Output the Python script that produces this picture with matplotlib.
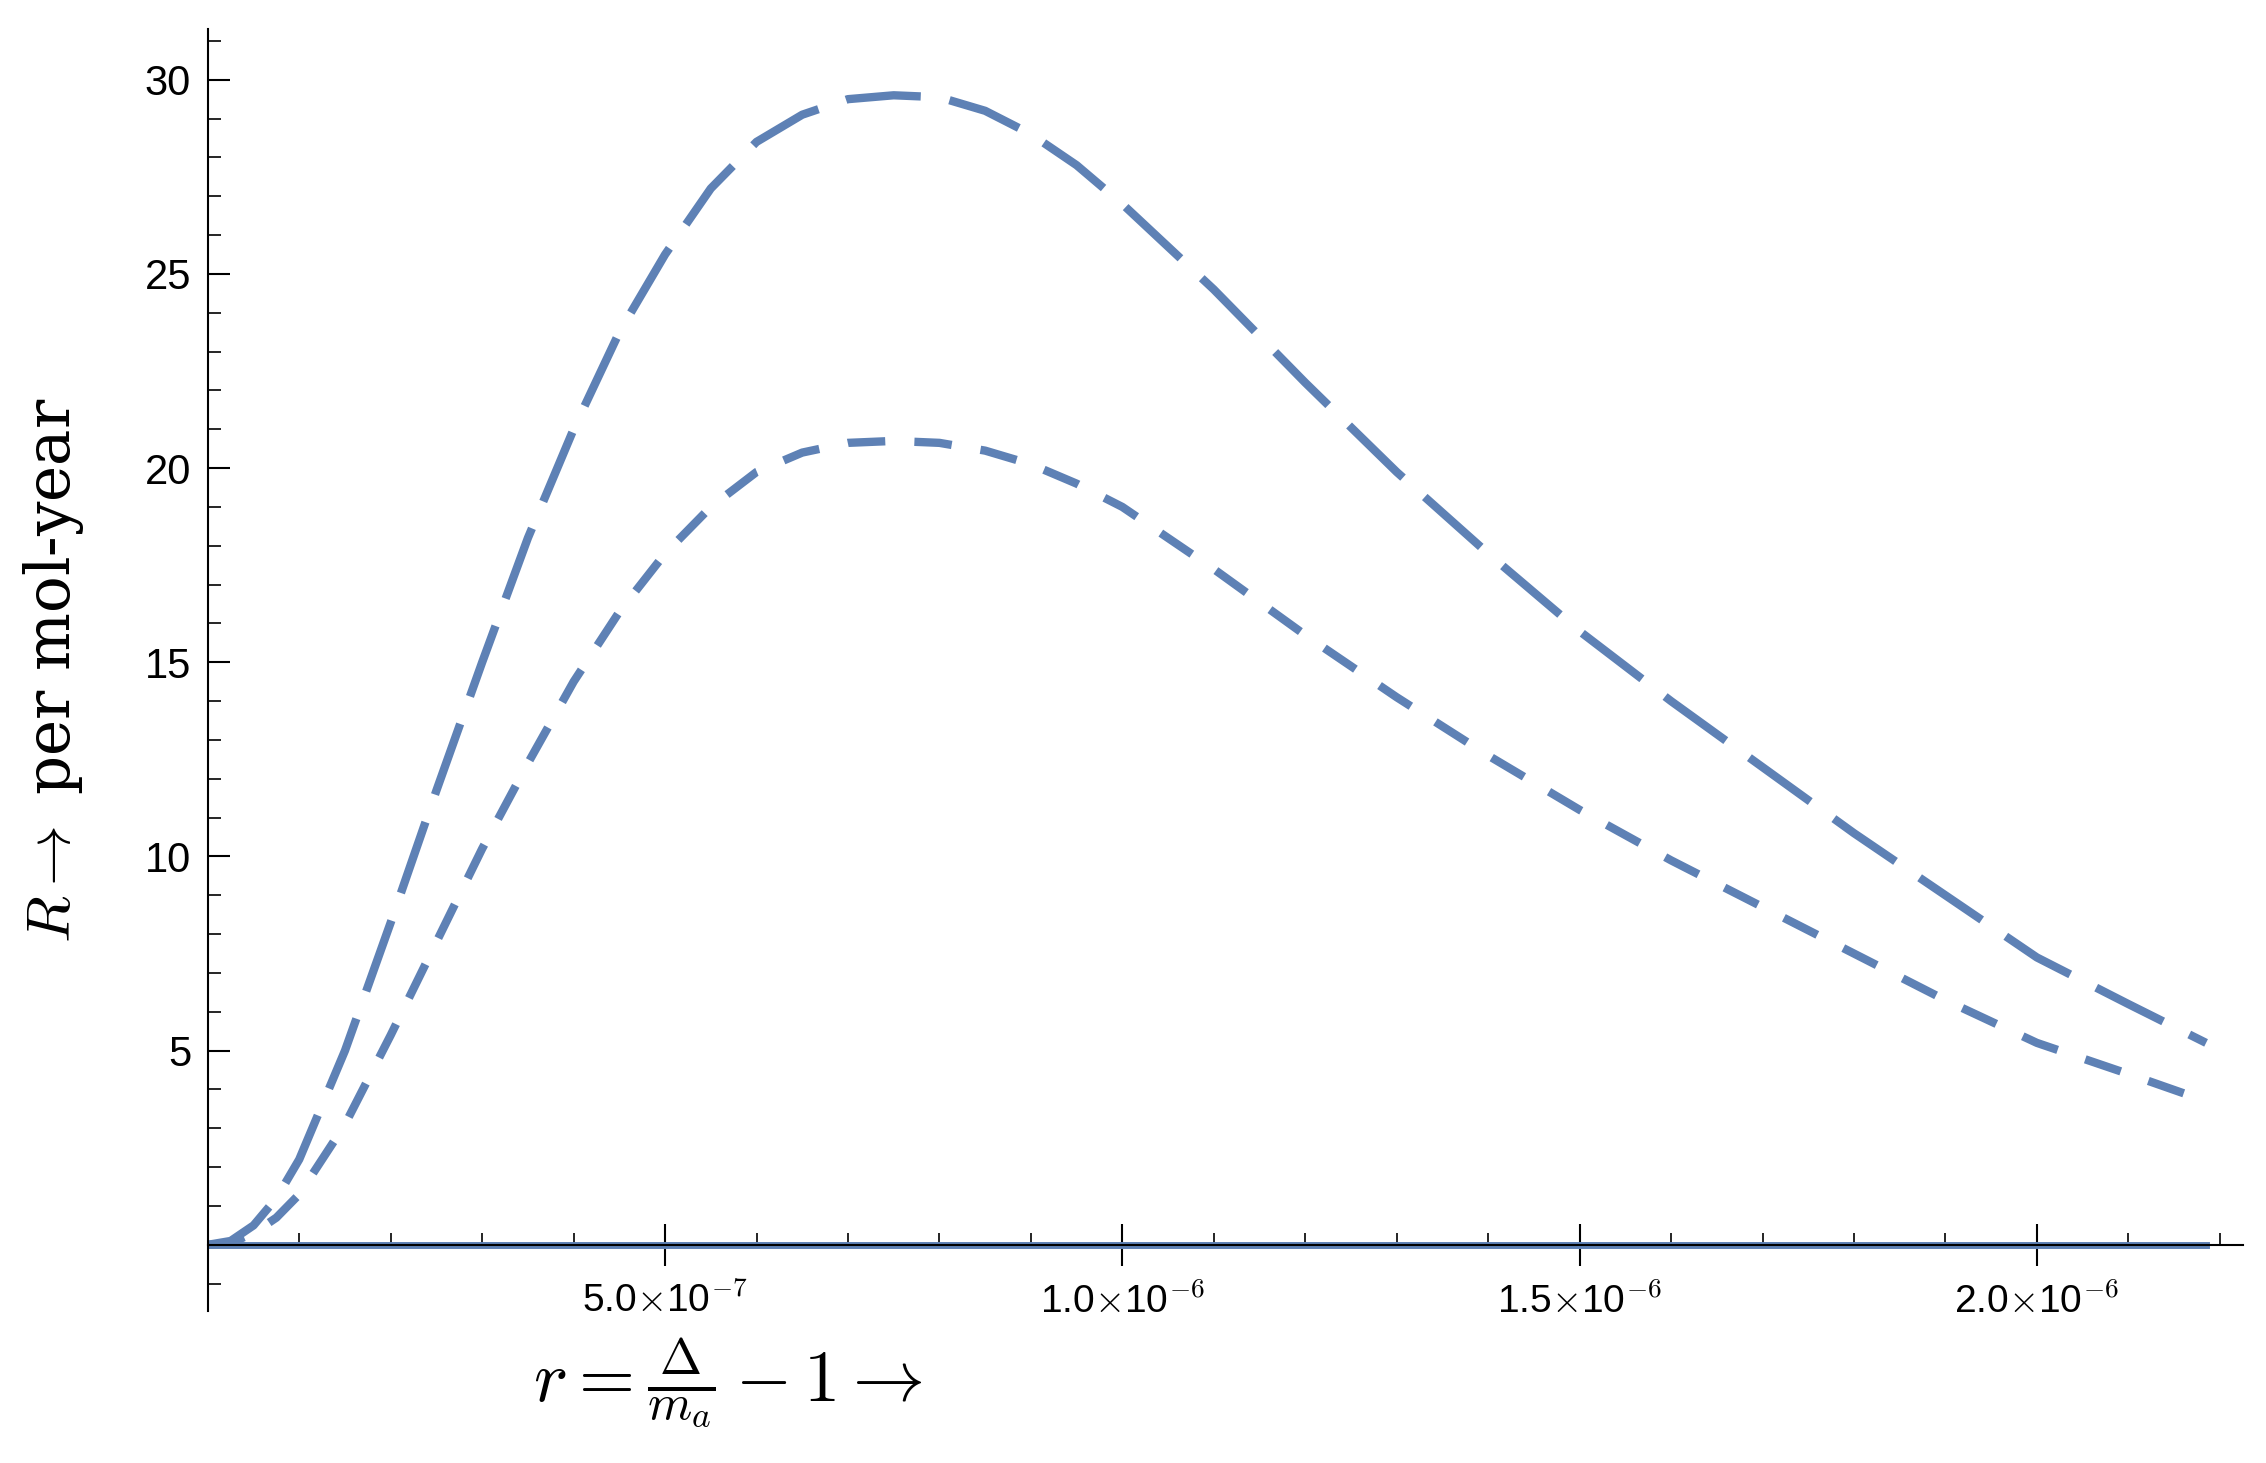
import matplotlib
matplotlib.use("Agg")
import matplotlib.pyplot as plt
import numpy as np
from matplotlib.ticker import MultipleLocator

plt.rcParams["mathtext.fontset"] = "cm"
plt.rcParams["font.family"] = ["Liberation Sans", "DejaVu Sans"]

x_e7 = [0, .25, .5, .75, 1, 1.5, 2, 2.5, 3, 3.5, 4, 4.5, 5, 5.5, 6, 6.5, 7, 7.5, 8, 8.5, 9, 9.5, 10, 11, 12, 13, 14, 15, 16, 17, 18, 19, 20, 21, 21.85]
upper = [0, 0.1, 0.5, 1.2, 2.2, 5.0, 8.3, 11.7, 15.0, 18.2, 21.0, 23.5, 25.5, 27.2, 28.4, 29.1, 29.5, 29.6, 29.55, 29.2, 28.6, 27.8, 26.8, 24.6, 22.2, 19.9, 17.8, 15.8, 14.0, 12.3, 10.6, 9.0, 7.4, 6.2, 5.2]
lower = [0, 0.05, 0.3, 0.7, 1.3, 3.1, 5.4, 7.8, 10.2, 12.4, 14.5, 16.3, 17.8, 19.0, 19.9, 20.4, 20.65, 20.7, 20.65, 20.45, 20.1, 19.6, 19.0, 17.4, 15.7, 14.1, 12.6, 11.2, 9.9, 8.7, 7.5, 6.3, 5.2, 4.4, 3.7]
xticks = [5e-7, 1e-6, 1.5e-6, 2e-6]
xticklabels = [r"5.0$\times$10$^{-7}$", r"1.0$\times$10$^{-6}$", r"1.5$\times$10$^{-6}$", r"2.0$\times$10$^{-6}$"]

x = np.array(x_e7) * 1e-7
col = "#5e81b5"
fig = plt.figure(figsize=(22.66, 14.63), dpi=100)
ax = fig.add_axes([0.0917, 0.104, 0.898, 0.876])
ax.plot(x, upper, color=col, lw=6, dashes=(9, 3.5), solid_capstyle="butt")
ax.plot(x, lower, color=col, lw=6, dashes=(4.5, 3.5))
ax.plot([0, x[-1]], [0, 0], color=col, lw=5)
ax.set_xlim(0, 2.225e-6)
ax.set_ylim(-1.7, 31.3)
for s in ["top", "right"]:
    ax.spines[s].set_visible(False)
ax.spines["bottom"].set_position(("data", 0))
ax.spines["left"].set_linewidth(1.5)
ax.spines["bottom"].set_linewidth(1.5)
ax.set_xticks(xticks)
ax.set_xticklabels(xticklabels)
ax.xaxis.set_minor_locator(MultipleLocator(1e-7))
ax.set_yticks([5, 10, 15, 20, 25, 30])
ax.yaxis.set_minor_locator(MultipleLocator(1))
ax.tick_params(which="major", direction="in", length=16, width=1.5, labelsize=30, pad=12)
ax.tick_params(which="minor", direction="in", length=9, width=1.2)
ax.tick_params(axis="x", which="major", direction="inout", length=30, labelsize=28)
ax.set_ylabel(r"$R\rightarrow$ per mol-year", fontsize=44, family="serif", labelpad=14)
ax.yaxis.set_label_coords(-0.06, 0.5)
fig.text(0.235, 0.055, r"$r=\frac{\Delta}{m_a}-1\rightarrow$", fontsize=52, ha="left", va="center")
fig.savefig("out.png", dpi=100)
